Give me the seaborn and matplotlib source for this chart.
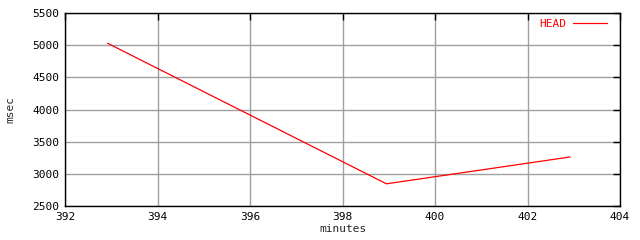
import matplotlib
matplotlib.use("Agg")
import matplotlib.pyplot as plt
import seaborn as sns
import pandas as pd

minutes = [392.92, 398.95, 402.92]
msec = [5030, 2845, 3262]
series = ["HEAD"] * 3

sns.set_style("white")
plt.rcParams['font.family'] = ['DejaVu Sans Mono']

df = pd.DataFrame({"minutes": minutes, "msec": msec, "series": series})

fig = plt.figure(figsize=(6.4, 2.4), dpi=100)
ax = fig.add_axes([65/640, 34/240, 555/640, 193/240])
sns.lineplot(data=df, x="minutes", y="msec", hue="series", palette=["#ff0000"],
             linewidth=0.9, ax=ax, legend=False)

ax.set_xlim(392, 404)
ax.set_ylim(2500, 5500)
ax.set_xticks(range(392, 405, 2))
ax.set_yticks(range(2500, 5501, 500))
ax.grid(True, color="#a0a0a0", linewidth=1.0)
ax.set_axisbelow(True)
for s in ax.spines.values():
    s.set_color("black")
    s.set_linewidth(1.0)
ax.tick_params(direction="in", length=5, width=1, top=True, right=True,
               labelsize=8, colors="black", pad=4)
ax.set_xlabel("minutes", fontsize=8, labelpad=2)
ax.set_ylabel("msec", fontsize=8, labelpad=12)

ax.plot([], [], color="#ff0000", linewidth=0.9, label="HEAD")
leg = ax.legend(loc="upper right", frameon=False, fontsize=8, handlelength=3.0,
                markerfirst=False, labelcolor="#ff0000", borderaxespad=0.8,
                handletextpad=0.6, bbox_to_anchor=(1.0, 1.036))

fig.savefig("out.png", dpi=100)
